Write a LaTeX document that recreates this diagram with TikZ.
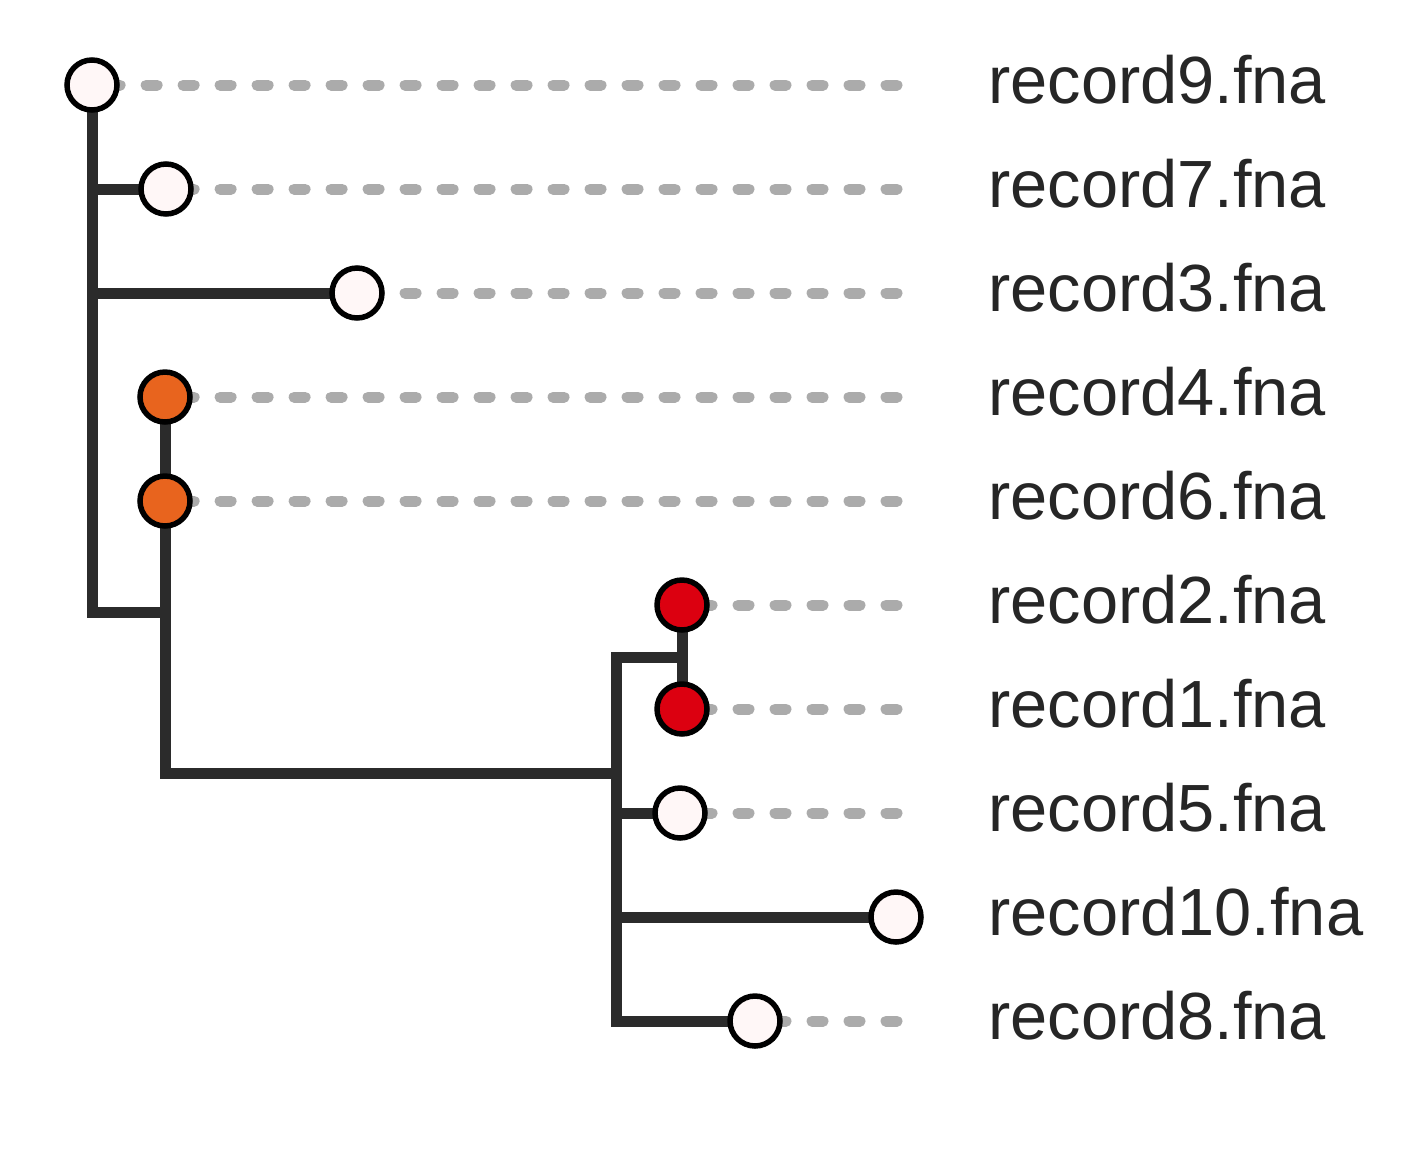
\documentclass[tikz,border=0pt]{standalone}
\usepackage{fontspec}
\setmainfont{Liberation Sans}
\usetikzlibrary{backgrounds}
\definecolor{inkbranch}{HTML}{2B2B2B}
\definecolor{inkguide}{HTML}{ABABAB}
\definecolor{inktext}{HTML}{262626}
\definecolor{tipplain}{HTML}{FFF7F7}
\definecolor{tiporange}{HTML}{E8641E}
\definecolor{tipcrimson}{HTML}{DC0010}
\tikzset{
  tip/.style={circle,draw=black,line width=0.11cm,minimum size=1cm,inner sep=0pt,fill=tipplain},
  orangetip/.style={tip,fill=tiporange},
  redtip/.style={tip,fill=tipcrimson},
  branch/.style={draw=inkbranch,line width=0.22cm},
  guide/.style={draw=inkguide,line width=0.22cm,line cap=round,dash pattern=on 0.22cm off 0.52cm},
  leafname/.style={anchor=base west,inner sep=0pt,yshift=-0.36cm,text=inktext,font=\fontsize{38}{46}\selectfont}
}
\def\dguide{\draw[guide]}
\def\dbranch{\draw[branch]}

\begin{document}
\begin{tikzpicture}[x=0.02cm,y=-0.02cm]
  \useasboundingbox (0,0) rectangle (1425,1170);
  \coordinate (gx) at (897,0);
  \coordinate (lx) at (988,0);
  % tips
  \node[tip]       (r9)  at (92,85)    {};
  \node[tip]       (r7)  at (166,189)  {};
  \node[tip]       (r3)  at (357,293)  {};
  \node[orangetip] (r4)  at (165,397)  {};
  \node[orangetip] (r6)  at (165,501)  {};
  \node[redtip]    (r2)  at (682,605)  {};
  \node[redtip]    (r1)  at (682,709)  {};
  \node[tip]       (r5)  at (680,813)  {};
  \node[tip]       (r10) at (896,917)  {};
  \node[tip]       (r8)  at (755,1021) {};
  % names
  \node[leafname] (l9)  at (r9 -| lx)  {record9.fna};
  \node[leafname] (l7)  at (r7 -| lx)  {record7.fna};
  \node[leafname] (l3)  at (r3 -| lx)  {record3.fna};
  \node[leafname] (l4)  at (r4 -| lx)  {record4.fna};
  \node[leafname] (l6)  at (r6 -| lx)  {record6.fna};
  \node[leafname] (l2)  at (r2 -| lx)  {record2.fna};
  \node[leafname] (l1)  at (r1 -| lx)  {record1.fna};
  \node[leafname] (l5)  at (r5 -| lx)  {record5.fna};
  \node[leafname] (l10) at (r10 -| lx) {record10.fna};
  \node[leafname] (l8)  at (r8 -| lx)  {record8.fna};
  \begin{scope}[on background layer]
    % guide lines
    \dguide (r9 -| gx) -- (r9.center);
    \dguide (r7 -| gx) -- (r7.center);
    \dguide (r3 -| gx) -- (r3.center);
    \dguide (r4 -| gx) -- (r4.center);
    \dguide (r6 -| gx) -- (r6.center);
    \dguide (r2 -| gx) -- (r2.center);
    \dguide (r1 -| gx) -- (r1.center);
    \dguide (r5 -| gx) -- (r5.center);
    \dguide (r8 -| gx) -- (r8.center);
    % branches
    \coordinate (k1) at (165,612);
    \coordinate (k2) at (616,773);
    \coordinate (k3) at (616,657);
    \dbranch (r9.center) |- (k1);
    \dbranch (r9 |- r7) -- (r7.center);
    \dbranch (r9 |- r3) -- (r3.center);
    \dbranch (r4.center) |- (k2);
    \dbranch (r2.center) -- (r1.center);
    \dbranch (r2 |- k3) -- (k3) |- (r8.center);
    \dbranch (k3 |- r5) -- (r5.center);
    \dbranch (k3 |- r10) -- (r10.center);
  \end{scope}
\end{tikzpicture}
\end{document}
